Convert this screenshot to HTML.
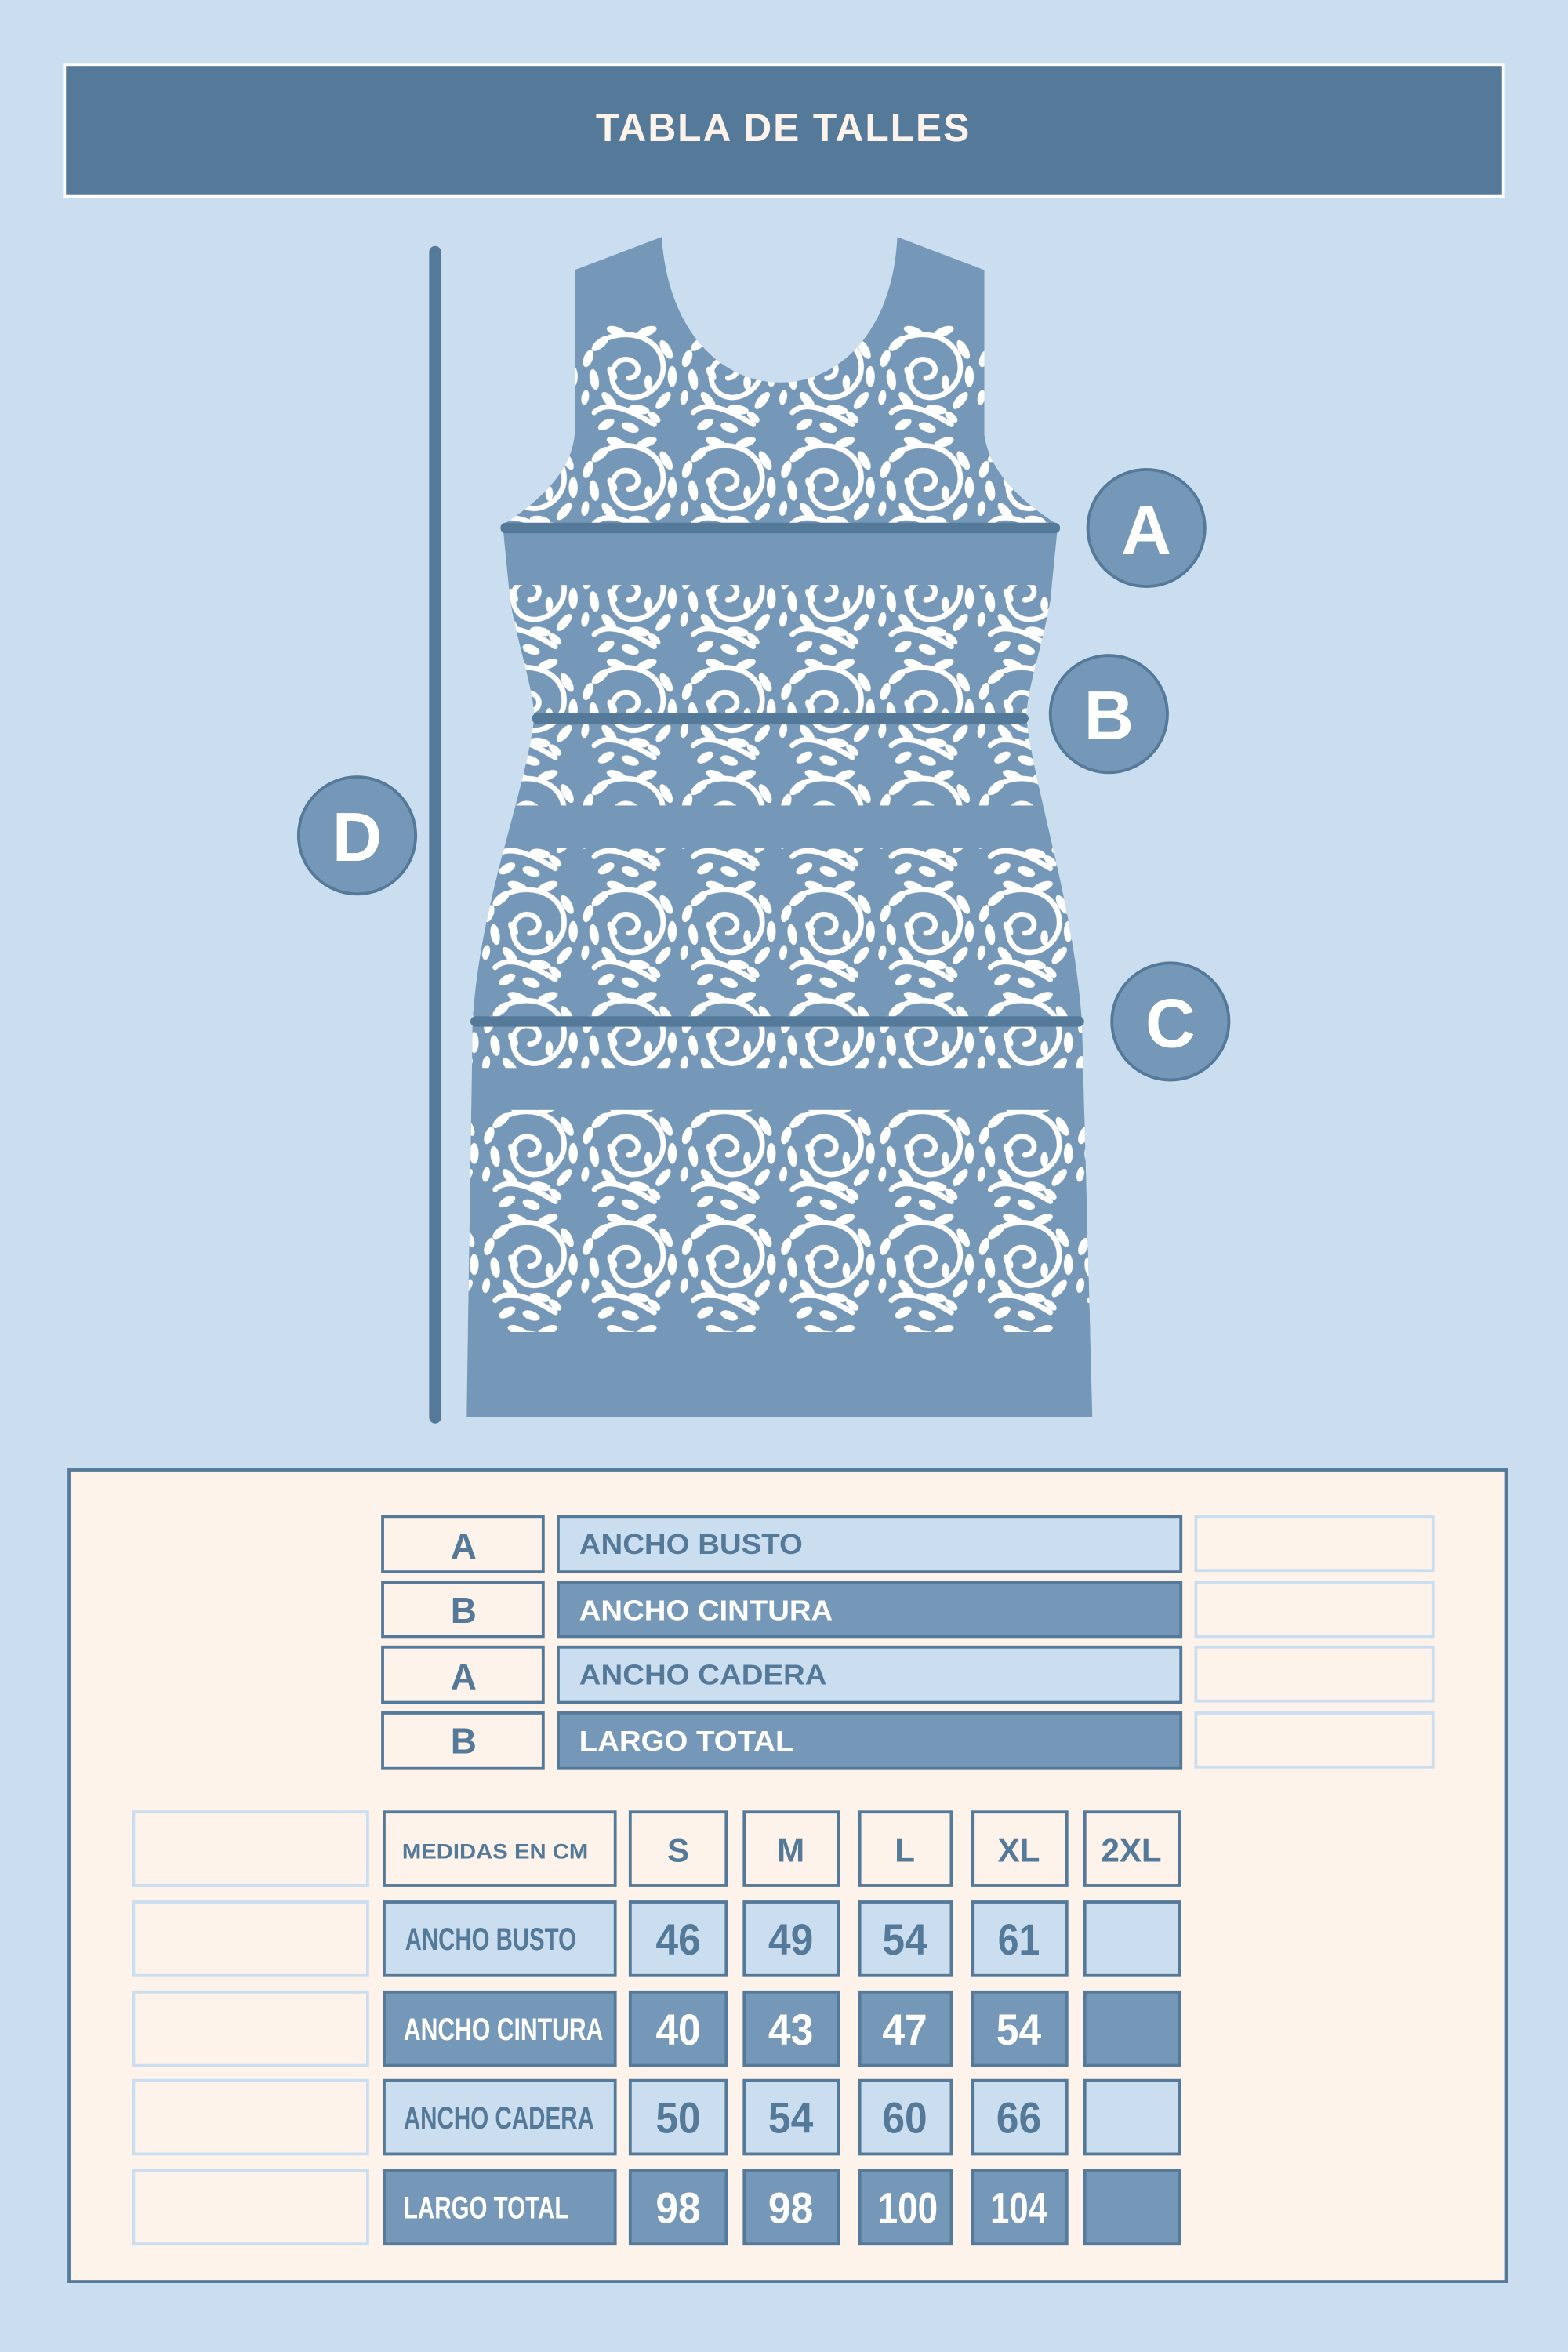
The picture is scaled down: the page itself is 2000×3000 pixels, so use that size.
<!DOCTYPE html>
<html><head><meta charset="utf-8"><style>
html,body{margin:0;padding:0;background:#cadef0;}
svg{display:block;}
text{font-family:"Liberation Sans",sans-serif;}
.n{font-family:"Liberation Sans",sans-serif;font-weight:bold;}
</style></head><body>
<svg width="2000" height="3000" viewBox="0 0 1045 1568" preserveAspectRatio="none" xmlns="http://www.w3.org/2000/svg">
<defs>
<pattern id="leaf" width="66" height="74" patternUnits="userSpaceOnUse" x="320" y="215">
<rect width="66" height="74" fill="#7598b8"/>
<g fill="none" stroke="#fff" stroke-width="3.5" stroke-linecap="round">
<path d="M33,37 C40,37 42,28 34,25 C22,22 18,38 26,46 C36,56 56,46 56,30 C56,12 36,4 20,10"/>
<path d="M10,60 C20,50 40,62 50,68"/>
</g>
<g fill="#fff">
<ellipse cx="14" cy="14" rx="7" ry="3" transform="rotate(-40 14 14)"/>
<ellipse cx="25" cy="6" rx="7" ry="3" transform="rotate(20 25 6)"/>
<ellipse cx="45" cy="6" rx="7" ry="3" transform="rotate(-20 45 6)"/>
<ellipse cx="58" cy="18" rx="7" ry="3" transform="rotate(60 58 18)"/>
<ellipse cx="62" cy="36" rx="7" ry="3" transform="rotate(90 62 36)"/>
<ellipse cx="56" cy="52" rx="7" ry="3" transform="rotate(-50 56 52)"/>
<ellipse cx="40" cy="58" rx="7" ry="3" transform="rotate(10 40 58)"/>
<ellipse cx="20" cy="52" rx="7" ry="3" transform="rotate(50 20 52)"/>
<ellipse cx="10" cy="38" rx="7" ry="3" transform="rotate(80 10 38)"/>
<ellipse cx="6" cy="24" rx="6" ry="3" transform="rotate(-70 6 24)"/>
<ellipse cx="18" cy="68" rx="6" ry="3" transform="rotate(-30 18 68)"/>
<ellipse cx="34" cy="70" rx="6" ry="3" transform="rotate(20 34 70)"/>
<ellipse cx="46" cy="40" rx="5" ry="2.5" transform="rotate(90 46 40)"/>
<ellipse cx="22" cy="34" rx="5" ry="2.5" transform="rotate(60 22 34)"/>
<ellipse cx="50" cy="63" rx="5" ry="2.5" transform="rotate(40 50 63)"/>
<ellipse cx="4" cy="50" rx="5" ry="2.5" transform="rotate(100 4 50)"/>
</g>
</pattern>
<clipPath id="dress"><path d="M383,180 L441,158 C445,220 480,255 520,255 C560,255 595,220 598,158 L656,180 L656,290 C660,320 690,340 705,350 L700,400 C695,430 684,460 684,479 C690,530 715,600 721,681 L728,945 L311,945 L315,681 C320,600 350,530 356,479 C356,460 345,430 340,400 L335,350 C350,340 380,320 383,290 Z"/></clipPath>
</defs>
<rect width="1045" height="1568" fill="#cadef0"/>
<rect x="43" y="43" width="959" height="88" fill="#557a99" stroke="#fff" stroke-width="2"/>
<text x="522" y="94" text-anchor="middle" font-size="26" font-weight="bold" fill="#fdf3ea" letter-spacing="1">TABLA DE TALLES</text>

<g clip-path="url(#dress)">
<rect x="300" y="150" width="440" height="800" fill="#7598b8"/>
<rect x="300" y="215" width="440" height="135" fill="url(#leaf)"/>
<rect x="300" y="390" width="440" height="147" fill="url(#leaf)"/>
<rect x="300" y="565" width="440" height="147" fill="url(#leaf)"/>
<rect x="300" y="740" width="440" height="148" fill="url(#leaf)"/>
</g>
<line x1="290" y1="168" x2="290" y2="945" stroke="#557a99" stroke-width="8" stroke-linecap="round"/>
<line x1="337" y1="352" x2="703" y2="352" stroke="#557a99" stroke-width="7" stroke-linecap="round"/>
<line x1="358" y1="479" x2="682" y2="479" stroke="#557a99" stroke-width="7" stroke-linecap="round"/>
<line x1="317" y1="681" x2="719" y2="681" stroke="#557a99" stroke-width="7" stroke-linecap="round"/>
<g fill="#7598b8" stroke="#557a99" stroke-width="2">
<circle cx="764" cy="352" r="39"/><circle cx="739" cy="476" r="39"/><circle cx="780" cy="681" r="39"/><circle cx="238" cy="557" r="39"/>
</g>
<g font-size="46" font-weight="bold" fill="#fff" text-anchor="middle">
<text x="764" y="369">A</text><text x="739" y="493">B</text><text x="780" y="698">C</text><text x="238" y="574">D</text>
</g>

<rect x="46" y="980" width="958" height="541" fill="#fdf3ea" stroke="#557a99" stroke-width="2"/>
<g stroke="#557a99" stroke-width="2">
<rect x="255" y="1011" width="107" height="37" fill="#fdf3ea"/>
<rect x="255" y="1055" width="107" height="36" fill="#fdf3ea"/>
<rect x="255" y="1098" width="107" height="37" fill="#fdf3ea"/>
<rect x="255" y="1142" width="107" height="37" fill="#fdf3ea"/>
<rect x="372" y="1011" width="415" height="37" fill="#cadef0"/>
<rect x="372" y="1055" width="415" height="36" fill="#7598b8"/>
<rect x="372" y="1098" width="415" height="37" fill="#cadef0"/>
<rect x="372" y="1142" width="415" height="37" fill="#7598b8"/>
</g>
<g fill="none" stroke="#cadef0" stroke-width="2">
<rect x="797" y="1011" width="158" height="36"/><rect x="797" y="1055" width="158" height="36"/>
<rect x="797" y="1098" width="158" height="36"/><rect x="797" y="1142" width="158" height="36"/>
</g>
<g font-size="24" font-weight="bold" fill="#557a99" text-anchor="middle">
<text x="309" y="1039">A</text><text x="309" y="1082">B</text><text x="309" y="1126">A</text><text x="309" y="1169">B</text>
</g>
<g font-size="19" font-weight="bold">
<text x="386" y="1036" fill="#557a99" textLength="149" lengthAdjust="spacingAndGlyphs">ANCHO BUSTO</text>
<text x="386" y="1080" fill="#fff" textLength="169" lengthAdjust="spacingAndGlyphs">ANCHO CINTURA</text>
<text x="386" y="1123" fill="#557a99" textLength="165" lengthAdjust="spacingAndGlyphs">ANCHO CADERA</text>
<text x="386" y="1167" fill="#fff" textLength="143" lengthAdjust="spacingAndGlyphs">LARGO TOTAL</text>
</g>

<g fill="none" stroke="#cadef0" stroke-width="2">
<rect x="89" y="1208" width="156" height="49"/><rect x="89" y="1268" width="156" height="49"/>
<rect x="89" y="1328" width="156" height="49"/><rect x="89" y="1387" width="156" height="49"/>
<rect x="89" y="1447" width="156" height="49"/>
</g>
<g stroke="#557a99" stroke-width="2" fill="#fdf3ea">
<rect x="256" y="1208" width="154" height="49"/><rect x="420" y="1208" width="64" height="49"/>
<rect x="496" y="1208" width="63" height="49"/><rect x="573" y="1208" width="61" height="49"/>
<rect x="648" y="1208" width="63" height="49"/><rect x="723" y="1208" width="63" height="49"/>
</g>
<g stroke="#557a99" stroke-width="2" fill="#cadef0">
<rect x="256" y="1268" width="154" height="49"/><rect x="420" y="1268" width="64" height="49"/>
<rect x="496" y="1268" width="63" height="49"/><rect x="573" y="1268" width="61" height="49"/>
<rect x="648" y="1268" width="63" height="49"/><rect x="723" y="1268" width="63" height="49"/>
<rect x="256" y="1387" width="154" height="49"/><rect x="420" y="1387" width="64" height="49"/>
<rect x="496" y="1387" width="63" height="49"/><rect x="573" y="1387" width="61" height="49"/>
<rect x="648" y="1387" width="63" height="49"/><rect x="723" y="1387" width="63" height="49"/>
</g>
<g stroke="#557a99" stroke-width="2" fill="#7598b8">
<rect x="256" y="1328" width="154" height="49"/><rect x="420" y="1328" width="64" height="49"/>
<rect x="496" y="1328" width="63" height="49"/><rect x="573" y="1328" width="61" height="49"/>
<rect x="648" y="1328" width="63" height="49"/><rect x="723" y="1328" width="63" height="49"/>
<rect x="256" y="1447" width="154" height="49"/><rect x="420" y="1447" width="64" height="49"/>
<rect x="496" y="1447" width="63" height="49"/><rect x="573" y="1447" width="61" height="49"/>
<rect x="648" y="1447" width="63" height="49"/><rect x="723" y="1447" width="63" height="49"/>
</g>
<text x="268" y="1239" font-size="14" font-weight="bold" fill="#557a99" textLength="124" lengthAdjust="spacingAndGlyphs">MEDIDAS EN CM</text>
<g font-size="22" font-weight="bold" fill="#557a99" text-anchor="middle">
<text x="452" y="1241">S</text><text x="527" y="1241">M</text><text x="603" y="1241">L</text><text x="679" y="1241">XL</text><text x="754" y="1241">2XL</text>
</g>
<g class="n" font-size="21">
<text x="270" y="1300" fill="#557a99" textLength="114" lengthAdjust="spacingAndGlyphs">ANCHO BUSTO</text>
<text x="269" y="1360" fill="#fff" textLength="133" lengthAdjust="spacingAndGlyphs">ANCHO CINTURA</text>
<text x="269" y="1419" fill="#557a99" textLength="127" lengthAdjust="spacingAndGlyphs">ANCHO CADERA</text>
<text x="269" y="1479" fill="#fff" textLength="110" lengthAdjust="spacingAndGlyphs">LARGO TOTAL</text>
</g>
<g class="n" font-size="29">
<g fill="#557a99">
<text x="437" y="1303" textLength="30" lengthAdjust="spacingAndGlyphs">46</text>
<text x="512" y="1303" textLength="30" lengthAdjust="spacingAndGlyphs">49</text>
<text x="588" y="1303" textLength="30" lengthAdjust="spacingAndGlyphs">54</text>
<text x="665" y="1303" textLength="28" lengthAdjust="spacingAndGlyphs">61</text>
<text x="437" y="1422" textLength="30" lengthAdjust="spacingAndGlyphs">50</text>
<text x="512" y="1422" textLength="30" lengthAdjust="spacingAndGlyphs">54</text>
<text x="588" y="1422" textLength="30" lengthAdjust="spacingAndGlyphs">60</text>
<text x="664" y="1422" textLength="30" lengthAdjust="spacingAndGlyphs">66</text>
</g>
<g fill="#fff">
<text x="437" y="1363" textLength="30" lengthAdjust="spacingAndGlyphs">40</text>
<text x="512" y="1363" textLength="30" lengthAdjust="spacingAndGlyphs">43</text>
<text x="588" y="1363" textLength="30" lengthAdjust="spacingAndGlyphs">47</text>
<text x="664" y="1363" textLength="30" lengthAdjust="spacingAndGlyphs">54</text>
<text x="437" y="1482" textLength="30" lengthAdjust="spacingAndGlyphs">98</text>
<text x="512" y="1482" textLength="30" lengthAdjust="spacingAndGlyphs">98</text>
<text x="585" y="1482" textLength="40" lengthAdjust="spacingAndGlyphs">100</text>
<text x="660" y="1482" textLength="38" lengthAdjust="spacingAndGlyphs">104</text>
</g>
</g>
</svg>
</body></html>
